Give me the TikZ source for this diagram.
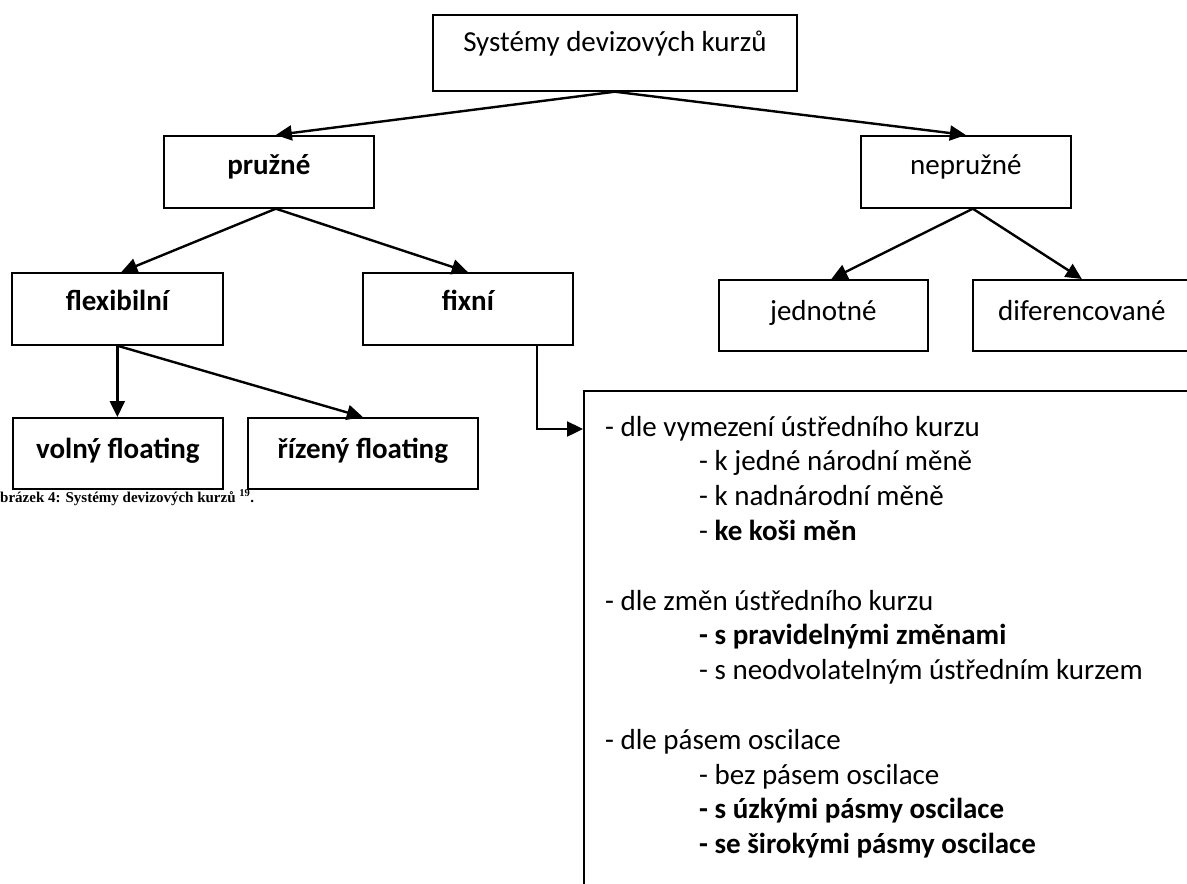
\documentclass[tikz,border=0pt]{standalone}
\usepackage{fontspec}
\setmainfont{Carlito}
\newfontfamily\capfont{Liberation Serif}
\usepackage{tikz}
\usetikzlibrary{positioning,arrows.meta,calc}

\begin{document}
\begin{tikzpicture}[x=1pt, y=-1pt, >={Triangle[length=16pt,width=15pt]},
  kbox/.style={draw, line width=1.7pt, inner sep=0pt, anchor=north west, font=\fontsize{29}{34}\selectfont},
  bbox/.style={kbox, font=\fontsize{29}{34}\selectfont\bfseries},
  link/.style={->, line width=2.4pt},
  listtext/.style={inner sep=0pt, font=\fontsize{29}{34.8}\selectfont}]
\useasboundingbox (0,0) rectangle (1187,884);
% top level
\node[kbox, minimum width=364pt, text height=37pt, text depth=39pt] (sys) at (432,14) {Systémy devizových kurzů};
\node[bbox, minimum width=210pt, text height=39pt, text depth=33pt] (pruzne) at (163,135) {pružné};
\node[kbox, minimum width=210pt, text height=39pt, text depth=33pt] (nepruzne) at (860,135) {nepružné};
% second level
\node[bbox, minimum width=211pt, text height=38pt, text depth=34pt] (flex) at (11,272) {flexibilní};
\node[bbox, minimum width=210pt, text height=38pt, text depth=34pt] (fixni) at (362,272) {fixní};
\node[kbox, minimum width=209pt, text height=41pt, text depth=30pt] (jedn) at (718,279) {jednotné};
\node[kbox, minimum width=218pt, text height=41pt, text depth=30pt] (difer) at (972,279) {diferencované};
% floating
\node[bbox, minimum width=210pt, text height=41pt, text depth=30pt] (volny) at (12,417) {volný floating};
\node[bbox, minimum width=230pt, text height=41pt, text depth=30pt] (rizeny) at (247,417) {řízený floating};
% fixed rate list
\node[kbox, minimum width=620pt, minimum height=520pt] (fixlist) at (583,390) {};
\coordinate (listin) at ([yshift=-39pt]fixlist.north west);
\node[listtext, anchor=base west] (fixtext) at (605,436) {%
\begin{tabular}[t]{@{}l@{}}
- dle vymezení ústředního kurzu\\
\hspace*{94pt}- k jedné národní měně\\
\hspace*{94pt}- k nadnárodní měně\\
\hspace*{94pt}- \textbf{ke koši měn}\\
\\
- dle změn ústředního kurzu\\
\hspace*{94pt}\textbf{- s pravidelnými změnami}\\
\hspace*{94pt}- s neodvolatelným ústředním kurzem\\
\\
- dle pásem oscilace\\
\hspace*{94pt}- bez pásem oscilace\\
\hspace*{94pt}\textbf{- s úzkými pásmy oscilace}\\
\hspace*{94pt}\textbf{- se širokými pásmy oscilace}
\end{tabular}};
\node[anchor=base west, inner sep=0pt, font=\capfont\fontsize{15}{18}\selectfont\bfseries] (caption) at (0,502) {brázek 4: Systémy devizových kurzů \textsuperscript{19}.};
% connectors
\draw[link] (sys.south) -- ([xshift=7pt]pruzne.north);
\draw[link] (sys.south) -- (nepruzne.north);
\draw[link] ([xshift=7pt]pruzne.south) -- ([xshift=4pt]flex.north);
\draw[link] ([xshift=7pt]pruzne.south) -- (fixni.north);
\draw[link] ([xshift=7pt]nepruzne.south) -- ([xshift=8pt]jedn.north);
\draw[link] ([xshift=7pt]nepruzne.south) -- (difer.north);
\draw[link] (flex.south) -- (flex.south |- volny.north);
\draw[link] (flex.south) -- (rizeny.north);
\draw[link] ([xshift=69pt]fixni.south) |- (listin);
\end{tikzpicture}
\end{document}
